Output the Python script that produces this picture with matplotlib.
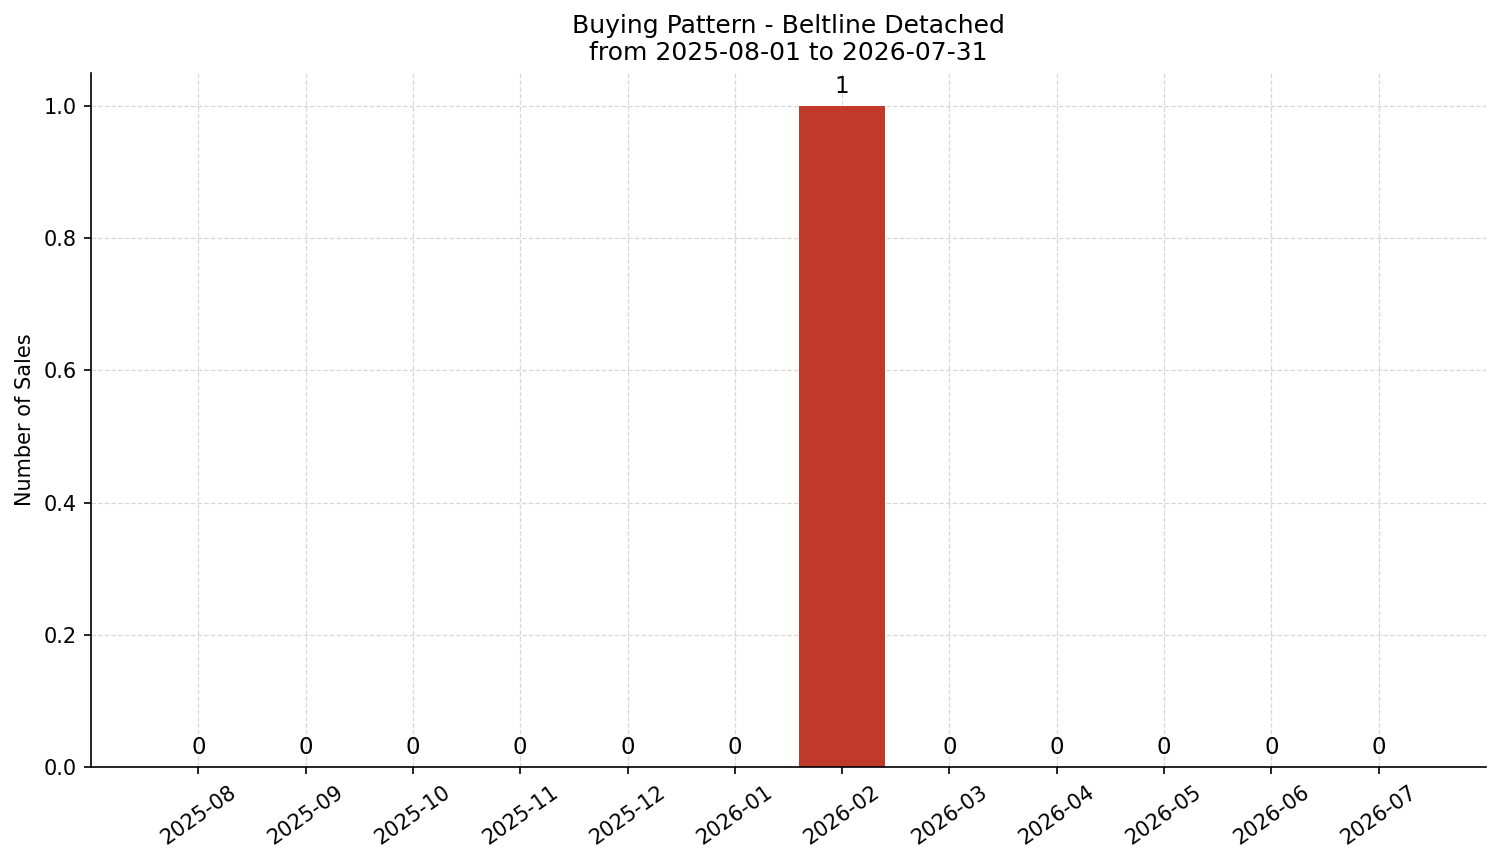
import matplotlib
matplotlib.use("Agg")
import matplotlib.pyplot as plt

months = ["2025-08", "2025-09", "2025-10", "2025-11", "2025-12", "2026-01",
          "2026-02", "2026-03", "2026-04", "2026-05", "2026-06", "2026-07"]
sales = [0, 0, 0, 0, 0, 0, 1, 0, 0, 0, 0, 0]

title = "Buying Pattern - Beltline Detached\nfrom 2025-08-01 to 2026-07-31"
ylabel = "Number of Sales"

fig = plt.figure(figsize=(1501 / 150, 863 / 150), dpi=150)
ax = fig.add_axes([91 / 1501, 1 - 767 / 863, (1486 - 91) / 1501, (767 - 73) / 863])

x = list(range(len(months)))
bars = ax.bar(x, sales, width=0.8, color="#c0392b", zorder=2)
for xi, v in zip(x, sales):
    ax.annotate(str(v), (xi, v), xytext=(0, 4), textcoords="offset points",
                ha="center", va="bottom", fontsize=11)

ax.set_xticks(x)
ax.set_xticklabels(months, rotation=35, ha="center", fontsize=10)
ax.tick_params(axis="y", labelsize=10)
ax.set_xlim(-1, 12)
ax.set_ylim(0, 1.05)
ax.set_ylabel(ylabel, fontsize=10)
ax.set_title(title, fontsize=12)
ax.grid(True, linestyle="--", linewidth=0.6, alpha=0.5, zorder=0)
ax.set_axisbelow(True)
ax.spines["top"].set_visible(False)
ax.spines["right"].set_visible(False)

fig.savefig("out.png", dpi=150)
